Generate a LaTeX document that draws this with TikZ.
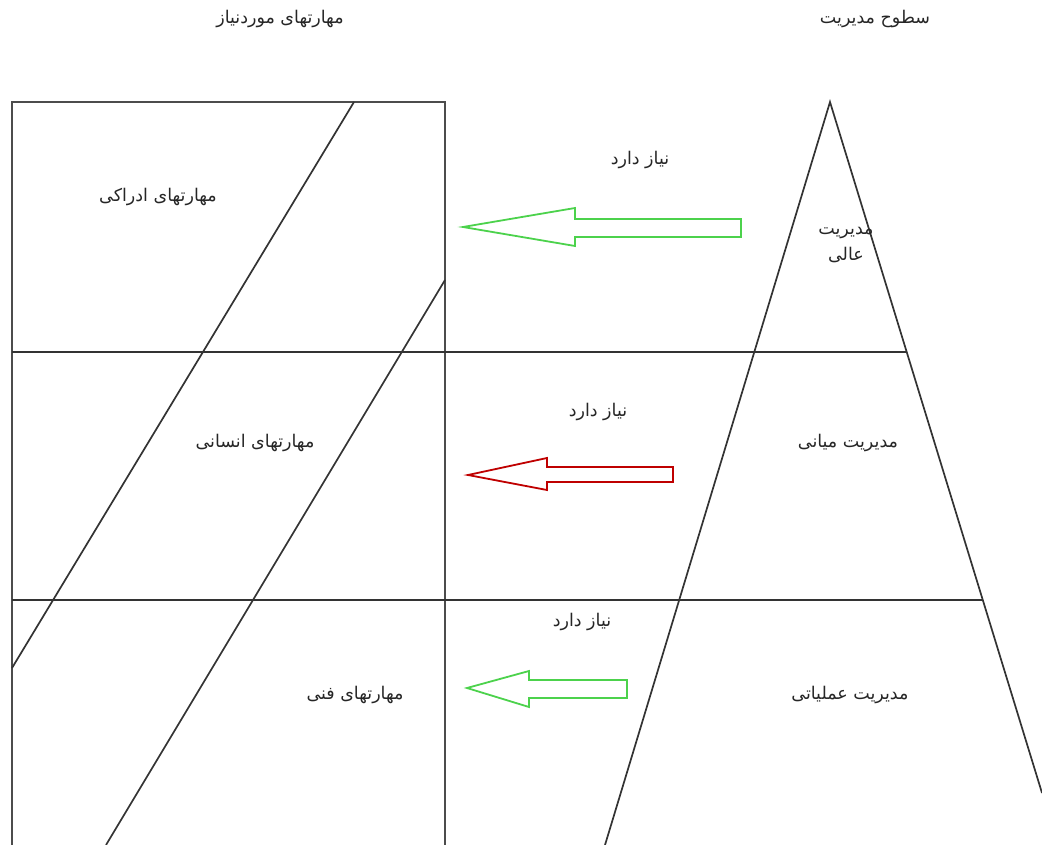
\documentclass[tikz,border=0pt]{standalone}
\usepackage{fontspec}
\newfontfamily\arabicfont[Script=Arabic]{DejaVu Sans}
\TeXXeTstate=1
\begin{document}
\begin{tikzpicture}[x=1pt,y=-1pt,
  lbl/.style={font=\arabicfont\fontsize{17.5}{26}\selectfont, text=black!85, inner sep=0pt, align=center},
  ln/.style={line width=1.7pt, draw=black!80},
  frame/.style={line width=2.2pt, draw=black!70},
  greenarrow/.style={line width=1.8pt, draw=green!75!black!70, line join=miter},
  redarrow/.style={line width=1.8pt, draw=red!75!black, line join=miter}]
\useasboundingbox (0,0) rectangle (1042,845);
% frame of the skills column
\draw[frame] (12,845) -- (12,102) -- (445,102) -- (445,845);
% level lines
\draw[ln] (12,352) -- (906,352);
\draw[ln] (12,600) -- (982,600);
% pyramid
\coordinate (apex) at (830,102);
\coordinate (lbase) at (605,845);
\coordinate (rbase) at (1042,793);
\draw[ln] (lbase) -- (apex) -- (rbase);
% diagonal lines in the skills box
\draw[ln] (354,102) -- (12,668);
\draw[ln] (445,280) -- (106,845);
% arrows
\draw[greenarrow] (463,227) -- (575,208) -- (575,219) -- (741,219) -- (741,237) -- (575,237) -- (575,246) -- cycle;
\draw[redarrow] (468,475) -- (547,458) -- (547,467) -- (673,467) -- (673,482) -- (547,482) -- (547,490) -- cycle;
\draw[greenarrow] (467,688) -- (529,671) -- (529,680) -- (627,680) -- (627,698) -- (529,698) -- (529,707) -- cycle;
% titles
\node[lbl] (t1) at (280,19) {\beginR مهارتهای موردنیاز\endR};
\node[lbl] (t2) at (875,19) {\beginR سطوح مدیریت\endR};
% need labels
\node[lbl] (n1) at (640,160) {\beginR نیاز دارد\endR};
\node[lbl] (n2) at (598,412) {\beginR نیاز دارد\endR};
\node[lbl] (n3) at (582,622) {\beginR نیاز دارد\endR};
% skills
\node[lbl] (s1) at (158,197) {\beginR مهارتهای ادراکی\endR};
\node[lbl] (s2) at (255,443) {\beginR مهارتهای انسانی\endR};
\node[lbl] (s3) at (355,695) {\beginR مهارتهای فنی\endR};
% levels
\node[lbl] (m1) at (846,245) {\beginR مدیریت\endR\\\beginR عالی\endR};
\node[lbl] (m2) at (848,443) {\beginR مدیریت میانی\endR};
\node[lbl] (m3) at (850,695) {\beginR مدیریت عملیاتی\endR};
\end{tikzpicture}
\end{document}
